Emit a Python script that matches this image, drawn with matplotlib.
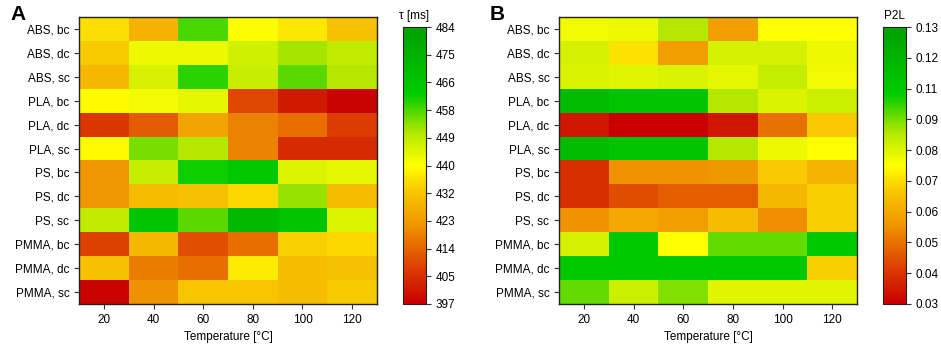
import matplotlib
matplotlib.use("Agg")
import matplotlib.pyplot as plt
import numpy as np
from matplotlib.colors import LinearSegmentedColormap

rows = ["ABS, bc", "ABS, dc", "ABS, sc", "PLA, bc", "PLA, dc", "PLA, sc",
        "PS, bc", "PS, dc", "PS, sc", "PMMA, bc", "PMMA, dc", "PMMA, sc"]
temps = [20, 40, 60, 80, 100, 120]

# panel A: tau [ms]
tau = [
    [436, 428, 458, 441, 437, 431],
    [433, 443, 443, 447, 452, 449],
    [429, 446, 460, 448, 457, 451],
    [440, 442, 444, 410, 402, 398],
    [407, 413, 425, 419, 416, 408],
    [440, 455, 451, 419, 405, 405],
    [422, 448, 462, 465, 445, 444],
    [422, 430, 431, 435, 453, 430],
    [449, 466, 457, 472, 467, 445],
    [409, 429, 411, 416, 434, 435],
    [431, 418, 416, 438, 430, 431],
    [398, 421, 432, 432, 430, 433],
]
tau_ticks = ["397", "405", "414", "423", "432", "440", "449", "458", "466", "475", "484"]

# panel B: P2L
p2l = [
    [0.082, 0.083, 0.092, 0.061, 0.080, 0.080],
    [0.087, 0.075, 0.061, 0.087, 0.087, 0.083],
    [0.086, 0.085, 0.086, 0.084, 0.089, 0.082],
    [0.115, 0.110, 0.110, 0.092, 0.086, 0.088],
    [0.035, 0.030, 0.030, 0.035, 0.052, 0.071],
    [0.115, 0.110, 0.110, 0.092, 0.083, 0.080],
    [0.040, 0.058, 0.058, 0.059, 0.071, 0.066],
    [0.040, 0.046, 0.049, 0.049, 0.067, 0.072],
    [0.058, 0.063, 0.061, 0.068, 0.057, 0.072],
    [0.087, 0.108, 0.080, 0.098, 0.098, 0.108],
    [0.108, 0.108, 0.108, 0.108, 0.108, 0.072],
    [0.098, 0.088, 0.096, 0.085, 0.085, 0.085],
]
p2l_ticks = ["0.03", "0.04", "0.05", "0.06", "0.07", "0.08", "0.09", "0.11", "0.12", "0.13"]

cmap = LinearSegmentedColormap.from_list("ryg", [
    (0.0, "#c80000"), (0.15, "#e04800"), (0.28, "#f09400"), (0.4, "#f8c400"),
    (0.5, "#ffff00"), (0.62, "#b4e800"), (0.76, "#00cc00"), (1.0, "#00a000")])

plt.rcParams["font.family"] = ["Liberation Sans", "DejaVu Sans"]
plt.rcParams["font.size"] = 8.5

fig = plt.figure(figsize=(9.41, 3.48), dpi=100)


def panel(left, cb_left, data, vmin, vmax, ticks, cblabel, letter):
    ax = fig.add_axes([left / 941, 1 - 304 / 348, 298 / 941, 287 / 348])
    im = ax.imshow(np.array(data), cmap=cmap, vmin=vmin, vmax=vmax,
                   aspect="auto", interpolation="nearest")
    ax.set_xticks(range(len(temps)))
    ax.set_xticklabels([str(t) for t in temps])
    ax.set_yticks(range(len(rows)))
    ax.set_yticklabels(rows)
    ax.set_xlabel("Temperature [°C]")
    for s in ax.spines.values():
        s.set_color("#222222")
        s.set_linewidth(1.0)
    ax.tick_params(length=3.5, color="#333333")
    cax = fig.add_axes([cb_left / 941, 1 - 304 / 348, 23 / 941, 277 / 348])
    cb = fig.colorbar(im, cax=cax)
    cb.set_ticks(np.linspace(vmin, vmax, len(ticks)))
    cb.set_ticklabels(ticks)
    cb.outline.set_color("#222222")
    cax.tick_params(length=3.5, color="#333333")
    cax.set_title(cblabel, fontsize=8.5, pad=6)
    fig.text((left - 69) / 941, 1 - 14 / 348, letter, fontsize=15,
             fontweight="bold", va="center")


panel(79, 403, tau, 397, 484, tau_ticks, "τ [ms]", "A")
panel(559, 883, p2l, 0.03, 0.13, p2l_ticks, "P2L", "B")

fig.savefig("out.png", dpi=100)
